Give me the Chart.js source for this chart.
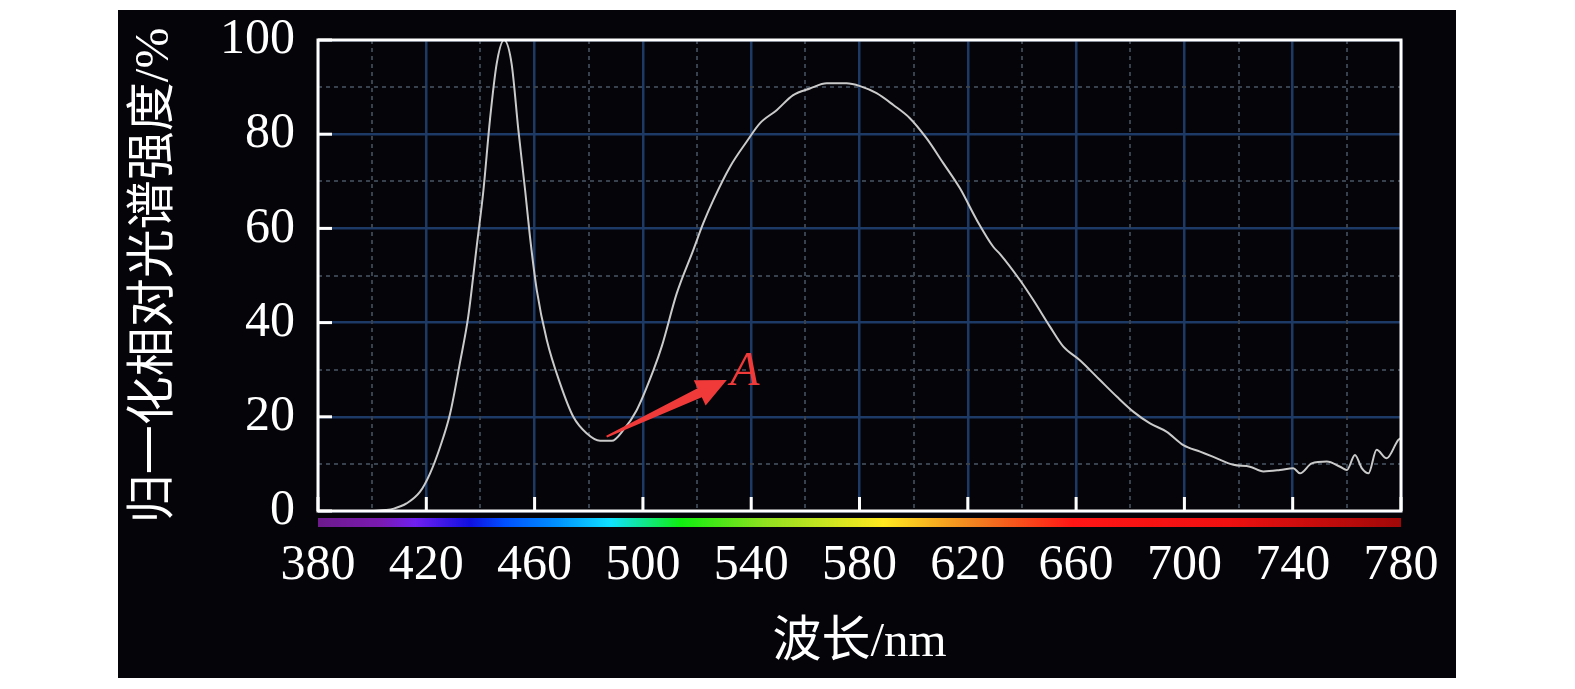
<!DOCTYPE html>
<html><head><meta charset="utf-8">
<script src="https://cdn.jsdelivr.net/npm/chart.js@4.4.0/dist/chart.umd.min.js"></script>
<style>html,body{margin:0;padding:0;background:#fff;overflow:hidden;}</style>
</head><body>
<canvas id="c" width="1575" height="689"></canvas>
<script>
// ---- data ----
const wavelengths = [400,405,408,412.7,417.7,421.4,425.1,428.8,432.4,435.5,438.6,441.1,443.5,446,448.7,451.5,454,456.5,458.3,460.8,464.5,469.4,474.3,479.2,484.2,488.5,492.8,497.7,503.9,507,512.5,518.6,522.3,526,532.2,538.3,543.2,549.4,555.5,561.7,567.9,575.2,580.2,586.3,592.5,598.6,604.8,611,617.1,623.3,629.4,632,639.3,644.2,650.4,655.3,661.4,668.8,675,681.1,687.3,693.5,699.6,705.8,710.7,718.1,724.2,729.2,735.3,740.2,742.7,747,752.6,757.5,760,763,765.5,768,771,774.7,779,780];
const intensities = [0,0.2,0.5,1.6,4.1,8.0,13.6,20.7,31.4,41.3,56.1,68.1,83.0,95,100,95,80.9,68.1,58.2,46.9,36.3,27.1,20.0,16.5,14.9,14.9,17.2,21.4,29.9,35,46.2,55.4,61.1,66,73.1,78.4,82.3,85.1,88.3,89.7,90.8,90.8,90.2,88.7,86.2,83.4,79.1,73.8,68.5,61.8,56.1,54.5,49.0,44.8,39.1,34.9,32.0,27.8,24.3,21.1,18.6,16.8,14.0,12.6,11.5,9.8,9.4,8.4,8.7,9.1,8.0,10.1,10.5,9.4,8.7,11.9,9.1,8.0,13.0,11.2,15.1,15.5];
const xTickValues = [380,420,460,500,540,580,620,660,700,740,780];
const yTickValues = [0,20,40,60,80,100];
const xMinorGrid = [400,440,480,520,560,600,640,680,720,760];
const yMinorGrid = [10,30,50,70,90];
const spectrumStops = [380,403,416,436,449,468,488,514,545,589,623,659,716,780];
const spectrumColors = ['#6d1a8c','#7a1ab0','#7020f0','#1010e0','#0050ff','#0090ff','#10e0ff','#10ee10','#90e020','#ffe820','#f08020','#ff1515','#f01010','#a00808'];
const arrowFrom = [486.6, 15.8];
const arrowTo = [531.0, 27.8];
const labelAText = 'A';
const labelAPos = [532.3, 26.7];
const xTitle = '波长/nm';
const yTitle = '归一化相对光谱强度/%';

const points = wavelengths.map((w, i) => ({x: w, y: intensities[i]}));
const FAM = '"Liberation Serif", "Noto Sans CJK SC", serif';

const decor = {
  id: 'decor',
  beforeDraw(chart) {
    const ctx = chart.ctx;
    ctx.save();
    ctx.fillStyle = '#ffffff';
    ctx.fillRect(0, 0, chart.width, chart.height);
    ctx.fillStyle = '#040409';
    ctx.fillRect(118, 10, 1338, 668);
    ctx.restore();
  },
  beforeDatasetsDraw(chart) {
    const {ctx, chartArea: a, scales: {x, y}} = chart;
    ctx.save();
    ctx.strokeStyle = '#38424f';
    ctx.lineWidth = 2;
    ctx.setLineDash([4, 4]);
    xMinorGrid.forEach(v => {
      const px = Math.round(x.getPixelForValue(v));
      ctx.beginPath(); ctx.moveTo(px, a.top); ctx.lineTo(px, a.bottom); ctx.stroke();
    });
    yMinorGrid.forEach(v => {
      const py = Math.round(y.getPixelForValue(v));
      ctx.beginPath(); ctx.moveTo(a.left, py); ctx.lineTo(a.right, py); ctx.stroke();
    });
    ctx.restore();
  },
  afterDatasetsDraw(chart) {
    const {ctx, chartArea: a, scales: {x, y}} = chart;
    ctx.save();
    ctx.strokeStyle = '#ffffff';
    ctx.lineWidth = 3;
    ctx.strokeRect(a.left, a.top, a.right - a.left, a.bottom - a.top);
    xTickValues.forEach(v => {
      const px = x.getPixelForValue(v);
      ctx.beginPath(); ctx.moveTo(px, a.bottom); ctx.lineTo(px, a.bottom - 14); ctx.stroke();
    });
    yTickValues.forEach(v => {
      const py = y.getPixelForValue(v);
      ctx.beginPath(); ctx.moveTo(a.left, py); ctx.lineTo(a.left + 14, py); ctx.stroke();
    });
    const x0 = x.getPixelForValue(spectrumStops[0]);
    const x1 = x.getPixelForValue(spectrumStops[spectrumStops.length - 1]);
    const g = ctx.createLinearGradient(x0, 0, x1, 0);
    spectrumStops.forEach((s, i) => g.addColorStop((x.getPixelForValue(s) - x0) / (x1 - x0), spectrumColors[i]));
    ctx.fillStyle = g;
    ctx.fillRect(x0, a.bottom + 7, x1 - x0, 9);
    const tx = x.getPixelForValue(arrowFrom[0]), ty = y.getPixelForValue(arrowFrom[1]);
    const hx = x.getPixelForValue(arrowTo[0]), hy = y.getPixelForValue(arrowTo[1]);
    const dx = hx - tx, dy = hy - ty, L = Math.hypot(dx, dy);
    const ux = dx / L, uy = dy / L, nx = -uy, ny = ux;
    const headLen = 30, headW = 14, shaftW = 5, tailW = 1;
    const bx = hx - ux * headLen, by = hy - uy * headLen;
    ctx.fillStyle = '#f03a3a';
    ctx.beginPath();
    ctx.moveTo(tx + nx * tailW, ty + ny * tailW);
    ctx.lineTo(bx + nx * shaftW, by + ny * shaftW);
    ctx.lineTo(bx + nx * headW, by + ny * headW);
    ctx.lineTo(hx, hy);
    ctx.lineTo(bx - nx * headW, by - ny * headW);
    ctx.lineTo(bx - nx * shaftW, by - ny * shaftW);
    ctx.lineTo(tx - nx * tailW, ty - ny * tailW);
    ctx.closePath();
    ctx.fill();
    ctx.font = 'italic 48px "Liberation Serif", serif';
    ctx.fillStyle = '#f03a3a';
    ctx.textAlign = 'left';
    ctx.textBaseline = 'alphabetic';
    ctx.fillText(labelAText, x.getPixelForValue(labelAPos[0]), y.getPixelForValue(labelAPos[1]));
    ctx.restore();
  }
};

function zeroPad(s) { s.paddingTop = 0; s.paddingBottom = 0; s.paddingLeft = 0; s.paddingRight = 0; }

new Chart(document.getElementById('c'), {
  type: 'line',
  data: {
    datasets: [{
      data: points,
      borderColor: '#cacaca',
      borderWidth: 2,
      pointRadius: 0,
      fill: false,
      cubicInterpolationMode: 'monotone'
    }]
  },
  options: {
    responsive: false,
    devicePixelRatio: 1,
    animation: false,
    layout: {padding: {left: 118, top: 40, right: 174, bottom: 11}},
    plugins: {legend: {display: false}, tooltip: {enabled: false}},
    scales: {
      x: {
        type: 'linear',
        min: 380, max: 780,
        afterFit: s => { s.height = 167; zeroPad(s); },
        afterBuildTicks: s => { s.ticks = xTickValues.map(v => ({value: v})); },
        ticks: {color: '#ffffff', padding: 25, maxRotation: 0, autoSkip: false,
                font: {family: FAM, size: 50, lineHeight: 1.2}},
        grid: {color: '#1d3a66', lineWidth: 2.5, drawTicks: false},
        border: {display: false},
        title: {display: true, text: xTitle, color: '#ffffff', padding: {top: 0, bottom: 5},
                font: {family: FAM, size: 49, lineHeight: 1.2}}
      },
      y: {
        min: 0, max: 100,
        afterFit: s => { s.width = 200; zeroPad(s); },
        afterBuildTicks: s => { s.ticks = yTickValues.map(v => ({value: v})); },
        ticks: {color: '#ffffff', padding: 23,
                font: {family: FAM, size: 50, lineHeight: 1.2}},
        grid: {color: '#1d3a66', lineWidth: 2.5, drawTicks: false},
        border: {display: false},
        title: {display: true, text: yTitle, color: '#ffffff', padding: {top: 8, bottom: 0},
                font: {family: FAM, size: 49, lineHeight: 1.2}}
      }
    }
  },
  plugins: [decor]
});
</script>
</body></html>
